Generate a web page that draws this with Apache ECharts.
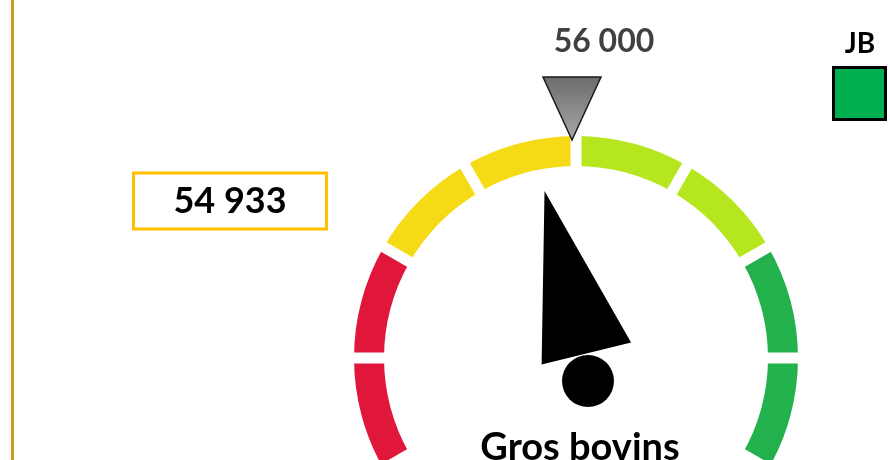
<!DOCTYPE html>
<html>
<head>
<meta charset="utf-8">
<script src="https://cdn.jsdelivr.net/npm/echarts@6/dist/echarts.min.js"></script>
<style>
  html, body { margin: 0; padding: 0; background: #fff; }
  #main { width: 890px; height: 460px; }
</style>
</head>
<body>
<div id="main"></div>
<script>
// gauge data
const seriesName = 'Gros bovins'
const actualValue = 54933
const targetValue = 56000
const scaleMin = 44000
const scaleMax = 68000
const bandStops = [50000, 56000, 62000, 68000]
const bandColors = ['#E0173A', '#F5DB15', '#B5E61E', '#22B14C']
const statusLabel = 'JB'

const fmt = (v) => String(v).replace(/\B(?=(\d{3})+(?!\d))/g, ' ')

const bands = bandStops.map((s, i) => [(s - scaleMin) / (scaleMax - scaleMin), bandColors[i]])

const common = {
  type: 'gauge',
  center: [576, 358],
  radius: 222,
  startAngle: 210,
  endAngle: -30,
  min: scaleMin,
  max: scaleMax,
  splitNumber: 8,
  axisTick: { show: false },
  axisLabel: { show: false },
  animation: false
}

const chart = echarts.init(document.getElementById('main'))
chart.setOption({
  backgroundColor: '#fff',
  graphic: [
    { type: 'rect', shape: { x: 11, y: 0, width: 3, height: 460 }, style: { fill: '#C9A01C' } },
    {
      type: 'text', x: 860, y: 44,
      style: { text: statusLabel, fill: '#000', font: 'bold 28px Lato', align: 'center', verticalAlign: 'middle' }
    },
    {
      type: 'rect', shape: { x: 833.5, y: 67.5, width: 52, height: 52 },
      style: { fill: '#00B050', stroke: '#000', lineWidth: 3 }
    }
  ],
  series: [
    Object.assign({}, common, {
      name: seriesName,
      axisLine: { lineStyle: { width: 30, color: bands } },
      splitLine: { show: true, distance: -32, length: 34, lineStyle: { color: '#fff', width: 11 } },
      pointer: {
        icon: 'path://M35,0 L92,164 L0,169 Z',
        width: 92,
        length: 170,
        offsetCenter: [11, 0],
        itemStyle: { color: '#000' }
      },
      anchor: { show: true, showAbove: true, size: 52, offsetCenter: [12, 23], itemStyle: { color: '#000' } },
      title: { offsetCenter: [4, 90], fontSize: 38, fontWeight: 'bold', color: '#000', fontFamily: 'Lato' },
      detail: {
        offsetCenter: [-346, -157],
        formatter: fmt,
        fontSize: 36,
        fontWeight: 'bold',
        fontFamily: 'Lato',
        color: '#000',
        backgroundColor: '#fff',
        borderColor: '#FFC000',
        borderWidth: 3,
        padding: 0,
        width: 190,
        height: 53,
        lineHeight: 53,
        align: 'center'
      },
      data: [{ value: actualValue, name: seriesName }]
    }),
    Object.assign({}, common, {
      name: 'objectif',
      axisLine: { show: false },
      splitLine: { show: false },
      pointer: {
        icon: 'path://M0,0 L58,0 L29,63 Z',
        width: 58,
        length: 63,
        offsetCenter: [-4, -218],
        itemStyle: {
          color: new echarts.graphic.LinearGradient(0, 0, 0, 1, [
            { offset: 0, color: '#6c6c6c' },
            { offset: 1, color: '#a8a8a8' }
          ]),
          borderColor: '#1a1a1a',
          borderWidth: 1.5
        }
      },
      anchor: { show: false },
      title: { show: false },
      detail: {
        offsetCenter: [28, -316],
        formatter: fmt,
        fontSize: 32,
        fontWeight: 'bold',
        fontFamily: 'Lato',
        color: '#404040'
      },
      data: [{ value: targetValue }]
    })
  ]
})
</script>
</body>
</html>
